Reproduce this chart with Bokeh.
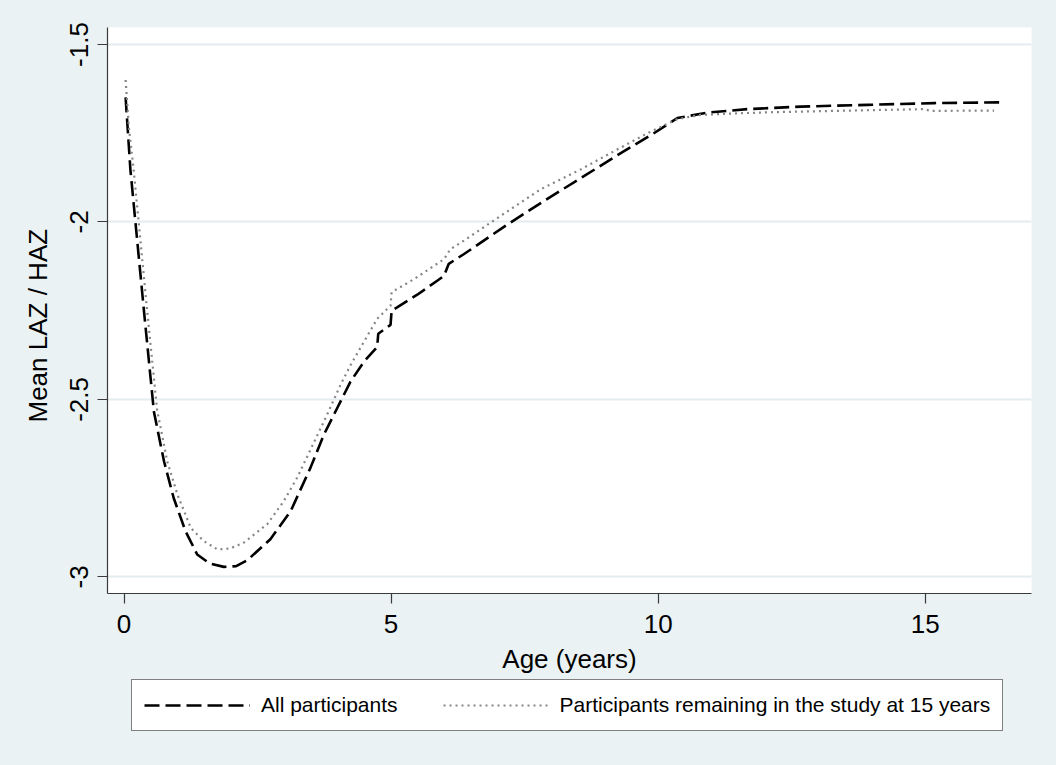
from bokeh.plotting import figure
from bokeh.layouts import column
from bokeh.models import Range1d, FixedTicker, Legend, LegendItem, Title
from bokeh.embed import file_html
from bokeh.resources import INLINE

# ---- data ----
age_all = [0.03, 0.12, 0.37, 0.56, 0.75, 0.93, 1.15, 1.37, 1.6, 1.87, 2.1, 2.31, 2.74,
           3.12, 3.49, 3.74, 3.99, 4.24, 4.49, 4.74, 4.76, 4.99, 5.01, 5.12, 5.49, 5.87,
           5.99, 6.08, 6.36, 7.14, 7.86, 8.61, 9.30, 9.92, 10.36, 10.92, 11.67, 12.67,
           13.92, 15.17, 16.39]
laz_all = [-1.649, -1.853, -2.245, -2.535, -2.675, -2.778, -2.871, -2.937, -2.962, -2.972,
           -2.970, -2.953, -2.894, -2.815, -2.693, -2.600, -2.525, -2.450, -2.394, -2.352,
           -2.315, -2.290, -2.250, -2.240, -2.205, -2.165, -2.152, -2.118, -2.091, -2.011,
           -1.941, -1.871, -1.806, -1.750, -1.707, -1.692, -1.682, -1.675, -1.670, -1.665,
           -1.663]

age_rem = [0.03, 0.09, 0.18, 0.43, 0.62, 0.81, 1.00, 1.25, 1.49, 1.75, 1.99, 2.24, 2.68,
           2.99, 3.24, 3.49, 3.80, 4.05, 4.24, 4.49, 4.74, 4.99, 5.01, 5.43, 5.99, 6.11,
           6.36, 7.05, 7.80, 8.55, 9.17, 9.80, 10.36, 10.80, 11.67, 12.04, 13.29, 14.98,
           15.10, 16.29]
laz_rem = [-1.600, -1.731, -1.852, -2.245, -2.530, -2.675, -2.768, -2.862, -2.899, -2.923,
           -2.920, -2.904, -2.852, -2.787, -2.721, -2.642, -2.544, -2.460, -2.404, -2.338,
           -2.273, -2.236, -2.198, -2.161, -2.105, -2.077, -2.053, -1.983, -1.908, -1.852,
           -1.801, -1.750, -1.710, -1.698, -1.693, -1.691, -1.687, -1.682, -1.687, -1.686]

x_ticks = [0, 5, 10, 15]
y_ticks = [-3, -2.5, -2, -1.5]
y_tick_labels = ["-3", "-2.5", "-2", "-1.5"]
series_names = ["All participants", "Participants remaining in the study at 15 years"]

BG = "#eaf2f3"
FONT = "Liberation Sans"
STYLE_ALL = dict(line_color="black", line_width=2.6, line_dash="15 6")
STYLE_REM = dict(line_color="#858585", line_width=2.2, line_dash="2 4")

# ---------------- main plot ----------------
p = figure(width=1056, height=676,
           min_border_left=107, min_border_right=25, min_border_top=27, min_border_bottom=80,
           x_range=Range1d(-0.309, 16.99), y_range=Range1d(-3.047, -1.452),
           output_backend="svg", toolbar_location=None)

p.background_fill_color = "white"
p.border_fill_color = BG
p.outline_line_color = None

p.line(age_all, laz_all, **STYLE_ALL)
p.line(age_rem, laz_rem, **STYLE_REM)

for ax in (p.xaxis[0], p.yaxis[0]):
    ax.axis_line_color = "#3a3a3a"
    ax.axis_line_width = 1.2
    ax.major_tick_line_color = "#3a3a3a"
    ax.major_tick_line_width = 1.2
    ax.major_tick_out = 10
    ax.major_tick_in = 0
    ax.minor_tick_line_color = None
    ax.major_label_text_font = FONT
    ax.major_label_text_font_size = "26px"
    ax.major_label_text_color = "black"
    ax.axis_label_text_font = FONT
    ax.axis_label_text_font_size = "26px"
    ax.axis_label_text_font_style = "normal"
    ax.axis_label_text_color = "black"

p.xaxis.ticker = FixedTicker(ticks=x_ticks)
p.yaxis.ticker = FixedTicker(ticks=y_ticks)
p.yaxis.major_label_overrides = {t: s for t, s in zip(y_ticks, y_tick_labels)}
p.yaxis.major_label_orientation = "vertical"
p.xaxis.axis_label = "Age (years)"
p.xaxis.major_label_standoff = 11
p.xaxis.axis_label_standoff = 8
p.yaxis.major_label_standoff = 9

ytitle = Title(text="Mean LAZ / HAZ", align="left", offset=171,
               text_font=FONT, text_font_size="26px", text_font_style="normal",
               text_color="black", standoff=29)
p.add_layout(ytitle, "left")

p.xgrid.grid_line_color = None
p.ygrid.grid_line_color = "#e3ecee"
p.ygrid.grid_line_width = 2

# ---------------- legend strip ----------------
lg = figure(width=1056, height=89, min_border=0,
            x_range=Range1d(0, 1), y_range=Range1d(0, 1),
            x_axis_type=None, y_axis_type=None,
            output_backend="svg", toolbar_location=None)
lg.background_fill_color = BG
lg.border_fill_color = BG
lg.outline_line_color = None
lg.grid.grid_line_color = None
# key renderers reuse the series; their data lie outside this strip's ranges
k1 = lg.line(age_all, laz_all, **STYLE_ALL)
k2 = lg.line(age_rem, laz_rem, **STYLE_REM)

legend = Legend(items=[LegendItem(label=series_names[0], renderers=[k1]),
                       LegendItem(label=series_names[1], renderers=[k2])],
                orientation="horizontal", location=(24, 34))
legend.label_text_font = FONT
legend.label_text_font_size = "21px"
legend.label_text_color = "black"
legend.glyph_width = 106
legend.glyph_height = 26
legend.label_standoff = 11
legend.spacing = 45
legend.padding = 12
legend.margin = 0
legend.border_line_color = "black"
legend.border_line_width = 1
legend.background_fill_color = "white"
legend.background_fill_alpha = 1.0
lg.add_layout(legend, "center")

layout = column(p, lg, spacing=0, styles={"background-color": BG})
open("out.html", "w").write(file_html(layout, INLINE))
